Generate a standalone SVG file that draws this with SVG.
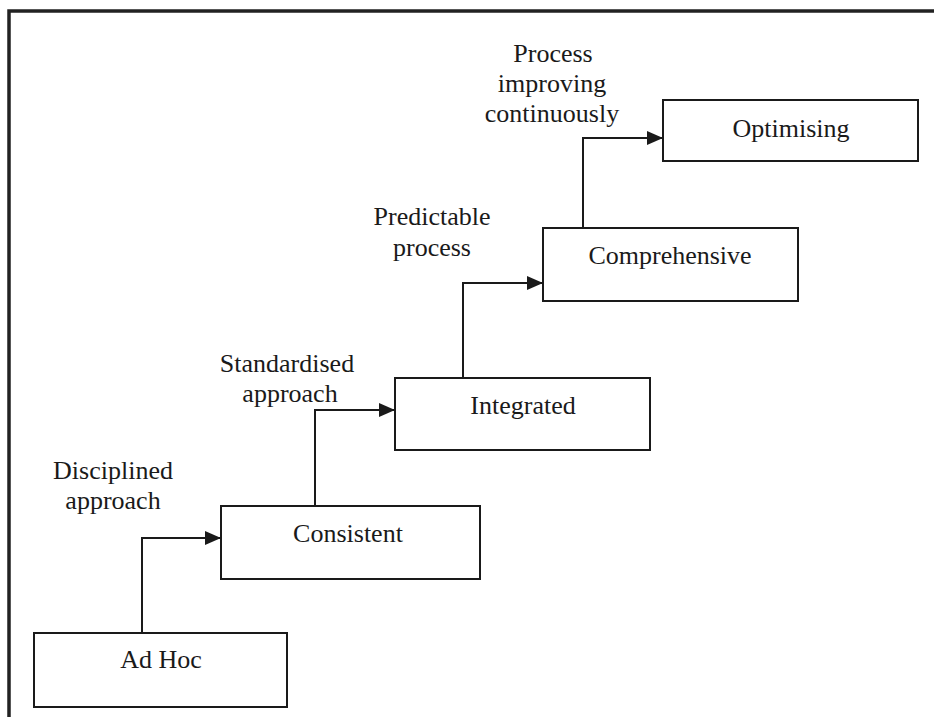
<svg xmlns="http://www.w3.org/2000/svg" width="934" height="717" viewBox="0 0 934 717">
  <defs>
    <marker id="arrow" viewBox="0 0 16 14" refX="15" refY="7" markerWidth="16" markerHeight="14" markerUnits="userSpaceOnUse" orient="auto">
      <path d="M0,0 L16,7 L0,14 Z" fill="#1a1a1a"/>
    </marker>
    <style>
      .box { fill: #ffffff; stroke: #1a1a1a; stroke-width: 2; }
      .frame { fill: none; stroke: #222222; stroke-width: 3.5; }
      .link { fill: none; stroke: #1a1a1a; stroke-width: 2; marker-end: url(#arrow); }
      text { font-family: "Liberation Serif", "Times New Roman", serif; font-size: 26px; fill: #1a1a1a; text-anchor: middle; }
    </style>
  </defs>

  <rect width="934" height="717" fill="#ffffff"/>

  <!-- outer frame: top and left edges -->
  <path class="frame" d="M9,717 L9,11 L934,11"/>

  <!-- maturity levels -->
  <g id="ad-hoc">
    <rect class="box" x="34" y="633" width="253" height="74"/>
    <text x="161" y="668">Ad Hoc</text>
  </g>
  <g id="consistent">
    <rect class="box" x="221" y="506" width="259" height="73"/>
    <text x="348" y="542">Consistent</text>
  </g>
  <g id="integrated">
    <rect class="box" x="395" y="378" width="255" height="72"/>
    <text x="523" y="414">Integrated</text>
  </g>
  <g id="comprehensive">
    <rect class="box" x="543" y="228" width="255" height="73"/>
    <text x="670" y="264">Comprehensive</text>
  </g>
  <g id="optimising">
    <rect class="box" x="663" y="100" width="255" height="61"/>
    <text x="791" y="137">Optimising</text>
  </g>

  <!-- step connectors -->
  <g id="connectors">
    <path class="link" d="M142,633 L142,538 L220,538"/>
    <path class="link" d="M315,506 L315,410 L394,410"/>
    <path class="link" d="M463,378 L463,283 L542,283"/>
    <path class="link" d="M583,228 L583,138 L662,138"/>
  </g>

  <!-- step labels -->
  <g id="labels">
    <text x="113" y="479">Disciplined</text>
    <text x="113" y="509">approach</text>
    <text x="287" y="372">Standardised</text>
    <text x="290" y="402">approach</text>
    <text x="432" y="225">Predictable</text>
    <text x="432" y="256">process</text>
    <text x="553" y="62">Process</text>
    <text x="552" y="92">improving</text>
    <text x="552" y="122">continuously</text>
  </g>
</svg>
